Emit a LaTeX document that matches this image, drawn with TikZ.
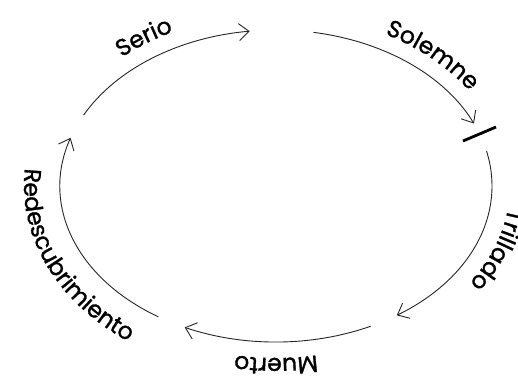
\documentclass[tikz,border=0pt]{standalone}
\usepackage{fontspec}
\newfontfamily\lab[FakeBold=1.2]{Poppins}
\usetikzlibrary{arrows.meta,decorations.text}
\begin{document}
\begin{tikzpicture}[x=1pt,y=1pt,
  arcline/.style={line width=0.9pt, draw=black!85, -{Straight Barb[length=10pt,width=17pt,line width=0.9pt]}},
  bar/.style={line width=2.8pt, draw=black, line cap=butt},
  lbl/.style={decorate, decoration={text along path, text align=center, text={|\lab\fontsize{23.5}{23.5}\selectfont|#1}}}
]
\useasboundingbox (-276,-192) rectangle (242,186);
% cycle arcs (ellipse 216 x 156)
\draw[arcline] (153:216pt and 156pt) arc[start angle=153, end angle=97, x radius=216pt, y radius=156pt];
\draw[arcline] (80:216pt and 156pt) arc[start angle=80, end angle=23.6, x radius=216pt, y radius=156pt];
\draw[arcline] (13:216pt and 156pt) arc[start angle=13, end angle=-56, x radius=216pt, y radius=156pt];
\draw[arcline] (-64:216pt and 156pt) arc[start angle=-64, end angle=-115, x radius=216pt, y radius=156pt];
\draw[arcline] (237:216pt and 156pt) arc[start angle=237, end angle=162, x radius=216pt, y radius=156pt];
% break mark
\coordinate (b1) at (187,45);
\coordinate (b2) at (220,59);
\draw[bar] (b1) -- (b2);
% labels
\path[lbl=Serio] (149:232pt and 172pt) arc[start angle=149, end angle=101, x radius=232pt, y radius=172pt];
\path[lbl=Solemne] (77:232pt and 172pt) arc[start angle=77, end angle=15, x radius=232pt, y radius=172pt];
\path[lbl=Trillado] (17:234pt and 172pt) arc[start angle=17, end angle=-55, x radius=234pt, y radius=172pt];
\path[lbl=Muerto] (-60:232pt and 172pt) arc[start angle=-60, end angle=-120, x radius=232pt, y radius=172pt];
\path[lbl=Redescubrimiento] (153:252pt and 192pt) arc[start angle=153, end angle=252, x radius=252pt, y radius=192pt];
\end{tikzpicture}
\end{document}
